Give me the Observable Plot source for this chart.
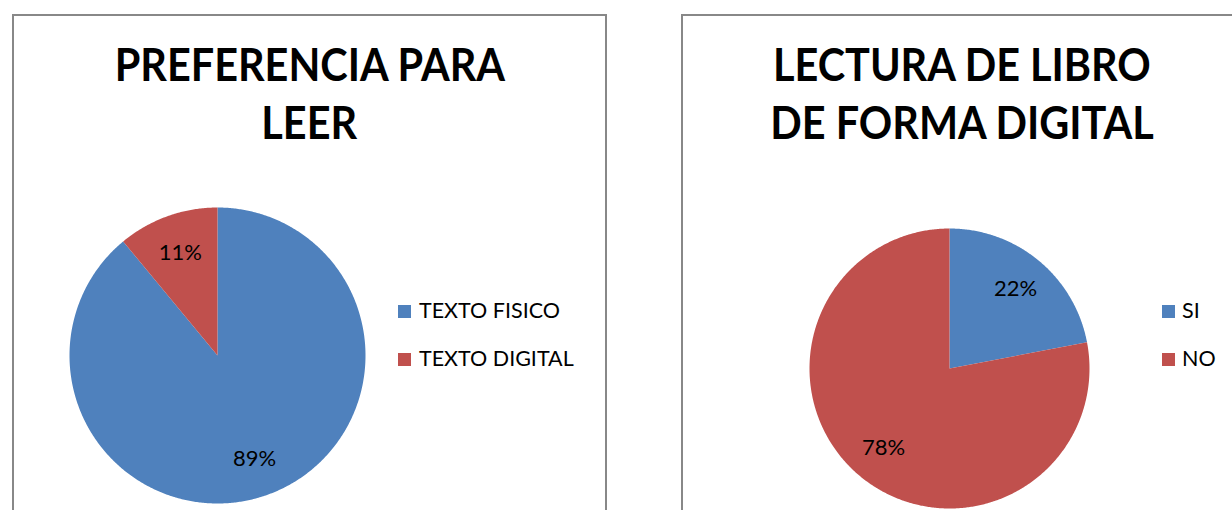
<!DOCTYPE html>
<html>
<head>
<meta charset="utf-8">
<script src="https://cdn.jsdelivr.net/npm/d3@7"></script>
<script src="https://cdn.jsdelivr.net/npm/@observablehq/plot@0.6"></script>
<style>
  html, body { margin: 0; padding: 0; background: #fff; }
  body { position: relative; width: 1232px; height: 510px; overflow: hidden; font-family: Lato, "Open Sans", sans-serif; color: #000; }
  .panel { position: absolute; top: 14px; height: 530px; border: 2px solid #888; box-sizing: border-box; }
  .title { position: absolute; top: 35px; text-align: center; font-weight: bold; font-size: 46px; line-height: 58px; }
  .title span { display: inline-block; transform: scaleX(0.9); transform-origin: center; white-space: nowrap; }
  .pie { position: absolute; }
  .legend { position: absolute; font-size: 21.5px; line-height: 24px; }
  .legend .row { position: absolute; left: 0; white-space: nowrap; height: 24px; }
  .legend .sw { position: absolute; left: 0; top: 7px; width: 13px; height: 13px; }
  .legend .lbl { position: absolute; top: 0; }
</style>
</head>
<body>
<div id="root"></div>
<script>
// ---- data ----
const chart1Title = ["PREFERENCIA PARA", "LEER"];
const chart1Categories = ["TEXTO FISICO", "TEXTO DIGITAL"];
const chart1Values = [89, 11];

const chart2Title = ["LECTURA DE LIBRO", "DE FORMA DIGITAL"];
const chart2Categories = ["SI", "NO"];
const chart2Values = [22, 78];

const seriesColors = ["#4F81BD", "#C0504D"];

// ---- layout (page pixels) ----
const layouts = [
  { panelLeft: 12, panelWidth: 595, pieLeft: 67, pieTop: 205, radius: 148, legendLeft: 398, legendTop: 298, textOffset: 21 },
  { panelLeft: 681, panelWidth: 562, pieLeft: 807, pieTop: 226, radius: 140, legendLeft: 1162, legendTop: 298, textOffset: 20 }
];
const legendRowGap = 48;
const labelRadius = 0.74;

function pieSlices(categories, values) {
  const total = d3.sum(values);
  let acc = 0;
  return categories.map((c, i) => {
    const start = acc / total * 2 * Math.PI;
    acc += values[i];
    const end = acc / total * 2 * Math.PI;
    return { category: c, value: values[i], pct: Math.round(values[i] / total * 100), start, end, mid: (start + end) / 2 };
  });
}

function slicePolygons(slices) {
  const pts = [];
  for (const s of slices) {
    pts.push({ category: s.category, x: 0, y: 0 });
    const n = Math.max(2, Math.ceil((s.end - s.start) / (Math.PI / 360)));
    for (let k = 0; k <= n; k++) {
      const a = s.start + (s.end - s.start) * k / n;
      pts.push({ category: s.category, x: Math.sin(a), y: Math.cos(a) });
    }
    pts.push({ category: s.category, x: 0, y: 0 });
  }
  return pts;
}

function drawChart(titleLines, categories, values, L) {
  const root = document.getElementById("root");

  const panel = document.createElement("div");
  panel.className = "panel";
  panel.style.left = L.panelLeft + "px";
  panel.style.width = L.panelWidth + "px";
  root.appendChild(panel);

  const title = document.createElement("div");
  title.className = "title";
  title.style.left = L.panelLeft + "px";
  title.style.width = L.panelWidth + "px";
  titleLines.forEach((t, i) => {
    if (i) title.appendChild(document.createElement("br"));
    const sp = document.createElement("span");
    sp.textContent = t;
    title.appendChild(sp);
  });
  root.appendChild(title);

  const slices = pieSlices(categories, values);
  const size = 2 * L.radius + 4;
  const svg = Plot.plot({
    width: size,
    height: size,
    margin: 2,
    style: { fontFamily: "Lato, 'Open Sans', sans-serif", background: "transparent", overflow: "visible" },
    x: { domain: [-1, 1], axis: null },
    y: { domain: [-1, 1], axis: null },
    color: { domain: categories, range: seriesColors },
    marks: [
      Plot.line(slicePolygons(slices), { x: "x", y: "y", z: "category", fill: "category", stroke: "none", curve: "linear" }),
      Plot.text(slices, {
        x: d => labelRadius * Math.sin(d.mid),
        y: d => labelRadius * Math.cos(d.mid),
        text: d => d.pct + "%",
        fontSize: 22,
        fill: "#000"
      })
    ]
  });
  const wrap = document.createElement("div");
  wrap.className = "pie";
  wrap.style.left = L.pieLeft + "px";
  wrap.style.top = L.pieTop + "px";
  wrap.appendChild(svg);
  root.appendChild(wrap);

  const legend = document.createElement("div");
  legend.className = "legend";
  legend.style.left = L.legendLeft + "px";
  legend.style.top = L.legendTop + "px";
  categories.forEach((c, i) => {
    const row = document.createElement("div");
    row.className = "row";
    row.style.top = (i * legendRowGap) + "px";
    const sw = document.createElement("div");
    sw.className = "sw";
    sw.style.background = seriesColors[i];
    const lbl = document.createElement("div");
    lbl.className = "lbl";
    lbl.style.left = L.textOffset + "px";
    lbl.textContent = c;
    row.appendChild(sw);
    row.appendChild(lbl);
    legend.appendChild(row);
  });
  root.appendChild(legend);
}

drawChart(chart1Title, chart1Categories, chart1Values, layouts[0]);
drawChart(chart2Title, chart2Categories, chart2Values, layouts[1]);
</script>
</body>
</html>
